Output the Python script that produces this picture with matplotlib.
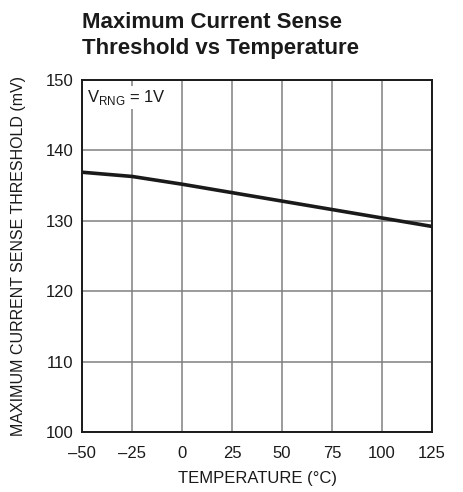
import matplotlib.pyplot as plt

plt.rcParams['font.family'] = ['Liberation Sans Narrow', 'Liberation Sans', 'DejaVu Sans']

# data
temps = [-50, -25, 0, 25, 50, 75, 100, 125]
threshold = [136.9, 136.3, 135.2, 134.0, 132.8, 131.6, 130.4, 129.2]

xticks = [-50, -25, 0, 25, 50, 75, 100, 125]
xtick_labels = ['–50', '–25', '0', '25', '50', '75', '100', '125']
yticks = [100, 110, 120, 130, 140, 150]

fig = plt.figure(figsize=(4.63, 4.92), dpi=100)
ax = fig.add_axes([82 / 463, 1 - 432 / 492, 350 / 463, 352 / 492])

ax.plot(temps, threshold, color='#1a1a1a', linewidth=2.6, solid_capstyle='butt', zorder=3)

ax.set_xlim(-50, 125)
ax.set_ylim(100, 150)
ax.set_xticks(xticks)
ax.set_xticklabels(xtick_labels)
ax.set_yticks(yticks)
ax.tick_params(axis='x', length=0, labelsize=12, pad=10, colors='#1a1a1a')
ax.tick_params(axis='y', length=0, labelsize=12, pad=6, colors='#1a1a1a')
ax.grid(True, color='#808080', linewidth=1.1)
ax.set_axisbelow(True)
for s in ax.spines.values():
    s.set_linewidth(1.4)
    s.set_color('#1a1a1a')

ax.set_xlabel('TEMPERATURE (°C)', fontsize=12, color='#1a1a1a', labelpad=7)
ax.set_ylabel('MAXIMUM CURRENT SENSE THRESHOLD (mV)', fontsize=11.5, color='#1a1a1a', labelpad=14)

ax.text(-47.5, 148.8, r'V$_{\mathregular{RNG}}$ = 1V', fontsize=12, va='top', ha='left',
        color='#1a1a1a', bbox=dict(facecolor='white', edgecolor='none', pad=1.5), zorder=4)

fig.text(82 / 463, 1 - 12 / 492, 'Maximum Current Sense\nThreshold vs Temperature',
         fontsize=16, fontweight='bold', ha='left', va='top', color='#1a1a1a', linespacing=1.3)

fig.savefig('out.png', dpi=100)
